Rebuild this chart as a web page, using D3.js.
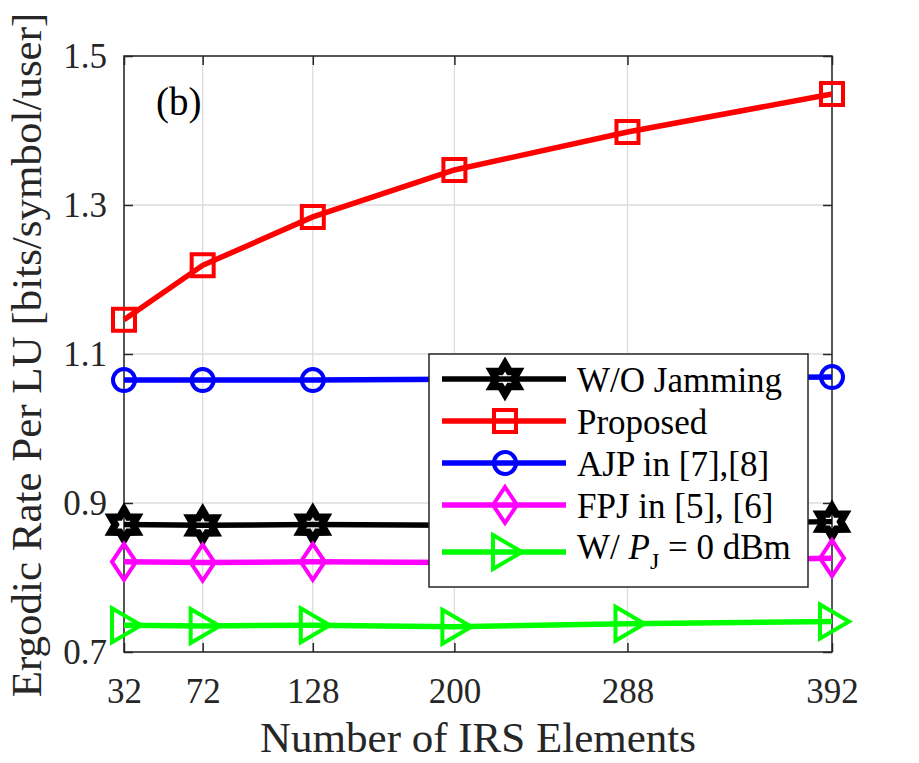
<!DOCTYPE html>
<html>
<head>
<meta charset="utf-8">
<script src="https://cdn.jsdelivr.net/npm/d3@7"></script>
<style>
  body { margin: 0; background: #fff; }
  svg { display: block; }
  text { font-family: 'Liberation Serif', serif; }
</style>
</head>
<body>
<svg id="chart" width="919" height="763"></svg>
<script>
const irsElements = [32, 72, 128, 200, 288, 392]
const xTicks = [32, 72, 128, 200, 288, 392]
const yTicks = [0.7, 0.9, 1.1, 1.3, 1.5]

const woJamming = [0.871, 0.870, 0.871, 0.870, 0.872, 0.875]
const proposed = [1.146, 1.219, 1.284, 1.347, 1.398, 1.449]
const ajp = [1.065, 1.065, 1.065, 1.066, 1.067, 1.069]
const fpj = [0.821, 0.820, 0.821, 0.820, 0.822, 0.826]
const withPj0 = [0.736, 0.735, 0.736, 0.734, 0.738, 0.741]

const series = [
  { name: 'W/O Jamming', values: woJamming, color: '#000000', marker: 'hexagram' },
  { name: 'Proposed', values: proposed, color: '#ff0000', marker: 'square' },
  { name: 'AJP in [7],[8]', values: ajp, color: '#0000ff', marker: 'circle' },
  { name: 'FPJ in [5], [6]', values: fpj, color: '#ff00ff', marker: 'diamond' },
  { name: 'W/ P_J = 0 dBm', values: withPj0, color: '#00ff00', marker: 'triangle' }
]

const margin = { top: 56, right: 87, bottom: 111, left: 124 }
const width = 919 - margin.left - margin.right
const height = 763 - margin.top - margin.bottom
const serif = "'Liberation Serif', serif"

const svg = d3.select('#chart').attr('font-family', serif)
const g = svg.append('g').attr('transform', `translate(${margin.left},${margin.top})`)

const x = d3.scaleLinear().domain([32, 392]).range([0, width])
const y = d3.scaleLinear().domain([0.7, 1.5]).range([height, 0])

// marker shapes, drawn around 0,0
function markerPath (type) {
  if (type === 'square') return 'M-11,-11H11V11H-11Z'
  if (type === 'diamond') return 'M0,-18L12,0L0,18L-12,0Z'
  if (type === 'triangle') return 'M-12,-17L17,0L-12,17Z'
  if (type === 'circle') return d3.arc()({ innerRadius: 0, outerRadius: 11, startAngle: 0, endAngle: 2 * Math.PI })
  // hexagram outline
  const pts = d3.range(12).map(i => {
    const r = i % 2 === 0 ? 15 : 8.7
    const a = i * Math.PI / 6 - Math.PI / 2
    return [r * Math.cos(a), r * Math.sin(a)]
  })
  return 'M' + pts.join('L') + 'Z'
}
const markerWidth = m => m === 'hexagram' ? 7.5 : 4

// grid
g.append('g')
  .selectAll('line')
  .data(xTicks)
  .join('line')
  .attr('x1', d => x(d)).attr('x2', d => x(d))
  .attr('y1', 0).attr('y2', height)
  .attr('stroke', '#dcdcdc').attr('stroke-width', 1.3)
g.append('g')
  .selectAll('line')
  .data(yTicks)
  .join('line')
  .attr('x1', 0).attr('x2', width)
  .attr('y1', d => y(d)).attr('y2', d => y(d))
  .attr('stroke', '#dcdcdc').attr('stroke-width', 1.3)

// axes (inward ticks like matlab)
const axisColor = '#262626'
const styleAxis = sel => {
  sel.attr('font-family', serif)
  sel.select('.domain').remove()
  sel.selectAll('line').attr('stroke', axisColor).attr('stroke-width', 1.5)
  sel.selectAll('text').attr('fill', axisColor).attr('font-size', 35)
}
g.append('g')
  .attr('transform', `translate(0,${height})`)
  .call(d3.axisBottom(x).tickValues(xTicks).tickSize(-9).tickPadding(26).tickFormat(d3.format('d')))
  .call(styleAxis)
g.append('g')
  .call(d3.axisTop(x).tickValues(xTicks).tickSize(-9).tickFormat(''))
  .call(styleAxis)
g.append('g')
  .call(d3.axisLeft(y).tickValues(yTicks).tickSize(-9).tickPadding(17).tickFormat(d3.format('.1f')))
  .call(styleAxis)
g.append('g')
  .attr('transform', `translate(${width},0)`)
  .call(d3.axisRight(y).tickValues(yTicks).tickSize(-9).tickFormat(''))
  .call(styleAxis)

g.append('rect')
  .attr('width', width).attr('height', height)
  .attr('fill', 'none').attr('stroke', axisColor).attr('stroke-width', 1.5)

// series
const line = d3.line().x(d => x(d[0])).y(d => y(d[1]))
series.forEach(s => {
  const pts = irsElements.map((n, i) => [n, s.values[i]])
  const sg = g.append('g')
  sg.append('path')
    .attr('d', line(pts))
    .attr('fill', 'none').attr('stroke', s.color).attr('stroke-width', 5.5)
  sg.selectAll('path.mk')
    .data(pts)
    .join('path')
    .attr('class', 'mk')
    .attr('transform', d => `translate(${x(d[0])},${y(d[1])})`)
    .attr('d', markerPath(s.marker))
    .attr('fill', 'none').attr('stroke', s.color)
    .attr('stroke-width', markerWidth(s.marker))
})

g.append('text')
  .attr('x', 32).attr('y', 59)
  .attr('font-size', 39).attr('fill', '#000')
  .text('(b)')

// legend
const legend = g.append('g').attr('transform', 'translate(305,298)')
legend.append('rect')
  .attr('width', 379).attr('height', 233)
  .attr('fill', '#fff').attr('stroke', axisColor).attr('stroke-width', 1.5)
series.forEach((s, i) => {
  const ly = 25 + i * 42 + (i === 4 ? 5 : 0)
  const row = legend.append('g').attr('transform', `translate(0,${ly})`)
  row.append('line')
    .attr('x1', 13).attr('x2', 137)
    .attr('stroke', s.color).attr('stroke-width', 5.5)
  row.append('path')
    .attr('transform', 'translate(76,0)')
    .attr('d', markerPath(s.marker))
    .attr('fill', 'none').attr('stroke', s.color)
    .attr('stroke-width', markerWidth(s.marker))
  const t = row.append('text')
    .attr('x', 148).attr('y', i === 4 ? 7 : 13)
    .attr('font-size', 35).attr('fill', '#000')
  if (i === 4) {
    t.append('tspan').text('W/ ')
    t.append('tspan').attr('font-style', 'italic').text('P')
    t.append('tspan').attr('font-size', 24).attr('dy', 10).text('J')
    t.append('tspan').attr('dy', -10).text(' = 0 dBm')
  } else {
    t.text(s.name)
  }
})

// axis labels
svg.append('text')
  .attr('x', margin.left + width / 2).attr('y', 752)
  .attr('text-anchor', 'middle')
  .attr('font-size', 43).attr('fill', axisColor)
  .text('Number of IRS Elements')
svg.append('text')
  .attr('transform', 'translate(41,355) rotate(-90)')
  .attr('text-anchor', 'middle')
  .attr('font-size', 43).attr('fill', axisColor)
  .text('Ergodic Rate Per LU [bits/symbol/user]')
</script>
</body>
</html>
